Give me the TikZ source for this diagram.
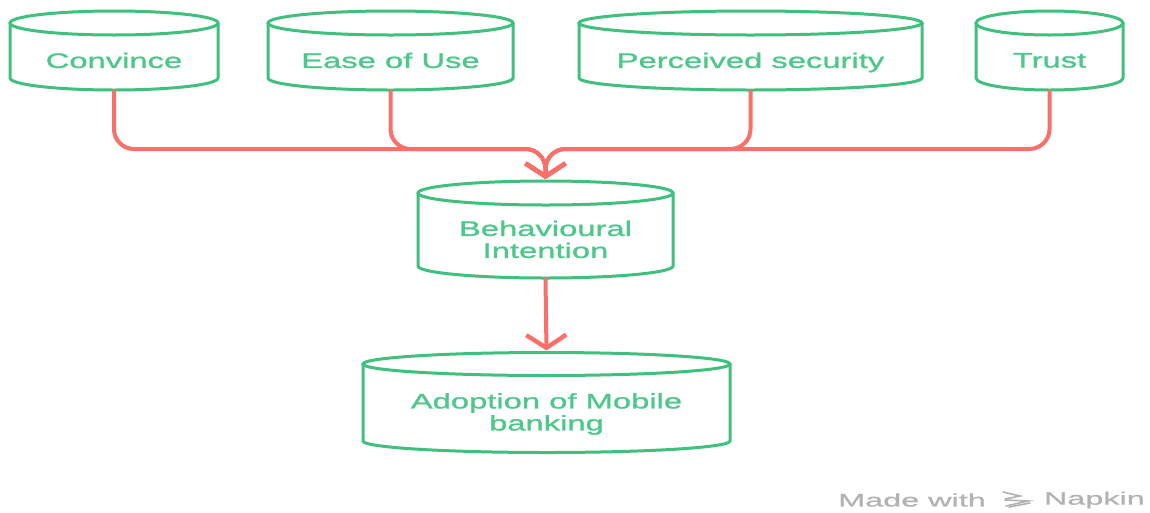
\documentclass[tikz,border=0pt]{standalone}
\usepackage{fontspec}
\usetikzlibrary{arrows.meta,calc}
\setmainfont{Liberation Sans}
\newfontfamily\labelfont[FakeStretch=1.56,FakeBold=1.2]{Liberation Sans}
\newfontfamily\wmfont[FakeStretch=1.8,FakeBold=0.8]{Liberation Sans}
\definecolor{drumgreen}{RGB}{64,192,126}
\definecolor{textgreen}{RGB}{78,200,138}
\definecolor{linkred}{RGB}{247,112,106}
\definecolor{wmgray}{RGB}{178,178,178}

\tikzset{
  drumline/.style={draw=drumgreen, line width=3pt},
  drumtext/.style={text=textgreen, font=\labelfont\fontsize{21}{22}\selectfont,
    align=center, inner sep=0pt, draw=none},
  link/.style={draw=linkred, line width=4pt, rounded corners=20pt,
    -{Straight Barb[length=13pt,width=40pt,line width=4.4pt]}, shorten >=2pt},
  wmtext/.style={text=wmgray, font=\wmfont\fontsize{18}{20}\selectfont, inner sep=0pt},
}

% keeps lines with and without descenders on the same centre
\newcommand\lstrut{\vphantom{Ay}}

% #1 name, #2 centre x, #3 y of top ellipse, #4 y of bottom arc centre,
% #5 half width, #6 ellipse y radius, #7 label
\newcommand\drum[7]{%
  \draw[drumline] (#2-#5,#3) -- (#2-#5,#4)
    arc[start angle=180,end angle=360,x radius=#5pt,y radius=#6pt] -- (#2+#5,#3);
  \draw[drumline] (#2,#3) ellipse[x radius=#5pt,y radius=#6pt];
  \node[drumtext, minimum width=2*#5pt, minimum height=#4-#3pt]
    (#1) at (#2,{(#3+#4)/2+#6}) {\lstrut#7\lstrut};
  \coordinate (#1-top) at (#2,#3-#6);
}

\begin{document}
\begin{tikzpicture}[x=1pt,y=-1pt]
  \useasboundingbox[fill=white] (0,0) rectangle (1150,512);

  % factor drums
  \drum{conv}{114}{23}{78}{104}{12}{Convince}
  \drum{ease}{390.5}{23}{78}{122.5}{12}{Ease of Use}
  \drum{secu}{750.5}{23}{78}{171.5}{12}{Perceived security}
  \drum{trust}{1049.5}{23}{78}{73.5}{12}{Trust}

  % intention and outcome
  \drum{beh}{545.5}{193}{266}{127.5}{12}{Behavioural\\Intention}
  \drum{adopt}{546.5}{364}{441}{183.5}{11.5}{Adoption of Mobile\\banking}

  % merge point of the four factor lines
  \coordinate (hub) at (545.5,149);

  \draw[link] (conv.south) |- (hub) -- (beh-top);
  \draw[link] (ease.south) |- (hub) -- (beh-top);
  \draw[link] (secu.south) |- (hub) -- (beh-top);
  \draw[link] (trust.south) |- (hub) -- (beh-top);
  \draw[link] (beh.south) -- (adopt-top);

  % footer mark
  \node[wmtext, anchor=west] (made) at (838,500) {Made with};
  \node[wmtext, anchor=east] (napkin) at (1145,500) {Napkin};
  \begin{scope}[wmgray, line width=1.6pt, line cap=round]
    \draw (1003,492) -- (1020,496) -- (1005,499);
    \draw (1005,500) -- (1028,501) -- (1006,506);
    \draw (1009,507) -- (1030,503);
  \end{scope}
\end{tikzpicture}
\end{document}
